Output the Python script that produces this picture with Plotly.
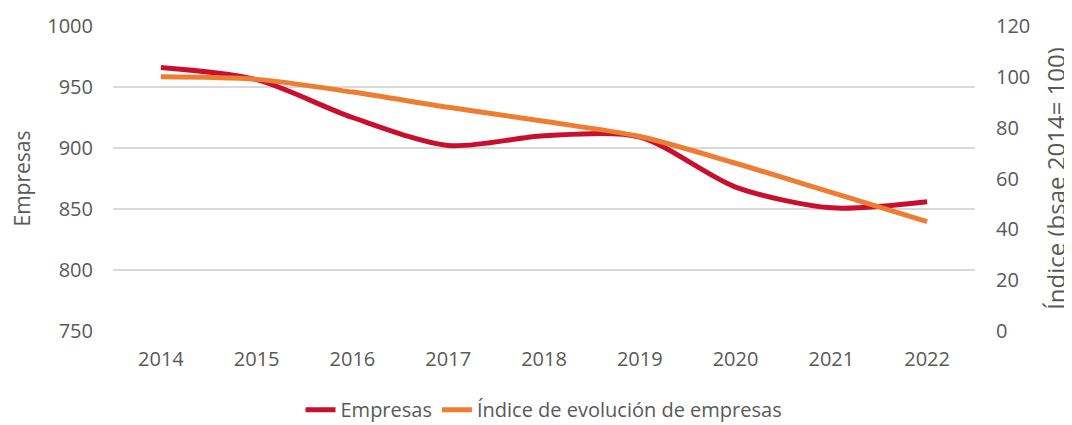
import plotly.graph_objects as go

# ─── Data ─────────────────────────────────────────────────────────────────────

years = ["2014", "2015", "2016", "2017", "2018", "2019", "2020", "2021", "2022"]
empresas = [966, 956, 925, 902, 910, 909, 868, 851, 856]
indice = [100, 99, 94, 88, 82.5, 76.5, 66, 54.5, 43]

# ─── Theme ────────────────────────────────────────────────────────────────────

RED = "#C8102E"
ORANGE = "#ED7D31"
TEXT = "#595959"
GRID = "#D9D9D9"
FONT = "Open Sans"

fig = go.Figure()

fig.add_trace(go.Scatter(
    x=years, y=empresas,
    mode="lines",
    line=dict(color=RED, width=5, shape="spline", smoothing=0.8),
    name="Empresas",
))

fig.add_trace(go.Scatter(
    x=years, y=indice,
    mode="lines",
    line=dict(color=ORANGE, width=5, shape="spline", smoothing=0.8),
    name="Índice de evolución de empresas",
    yaxis="y2",
))

fig.update_layout(
    width=1072, height=425,
    paper_bgcolor="white",
    plot_bgcolor="white",
    font=dict(family=FONT, color=TEXT, size=20),
    margin=dict(l=105, r=105, t=18, b=102),
    xaxis=dict(
        type="category",
        range=[-0.5, 8.5],
        showgrid=False,
        showline=False,
        ticks="",
        tickfont=dict(size=20, color=TEXT),
        ticklabelstandoff=14,
        automargin=False,
    ),
    yaxis=dict(
        title=dict(text="Empresas", font=dict(size=21, color=TEXT), standoff=12),
        range=[750, 1000],
        dtick=50,
        gridcolor=GRID,
        gridwidth=1.5,
        zeroline=False,
        tickfont=dict(size=20, color=TEXT),
        ticklabelstandoff=19,
        automargin=False,
    ),
    yaxis2=dict(
        title=dict(text="Índice (bsae 2014= 100)", font=dict(size=24, color=TEXT), standoff=18),
        range=[0, 120],
        dtick=20,
        overlaying="y",
        side="right",
        showgrid=False,
        zeroline=False,
        tickfont=dict(size=20, color=TEXT),
        ticklabelstandoff=20,
        automargin=False,
    ),
    legend=dict(
        orientation="h",
        x=0.5, xanchor="center", xref="container",
        y=0.055, yanchor="middle", yref="container",
        font=dict(size=20, color=TEXT),
        tracegroupgap=0,
    ),
)

fig.write_html("out.html")
